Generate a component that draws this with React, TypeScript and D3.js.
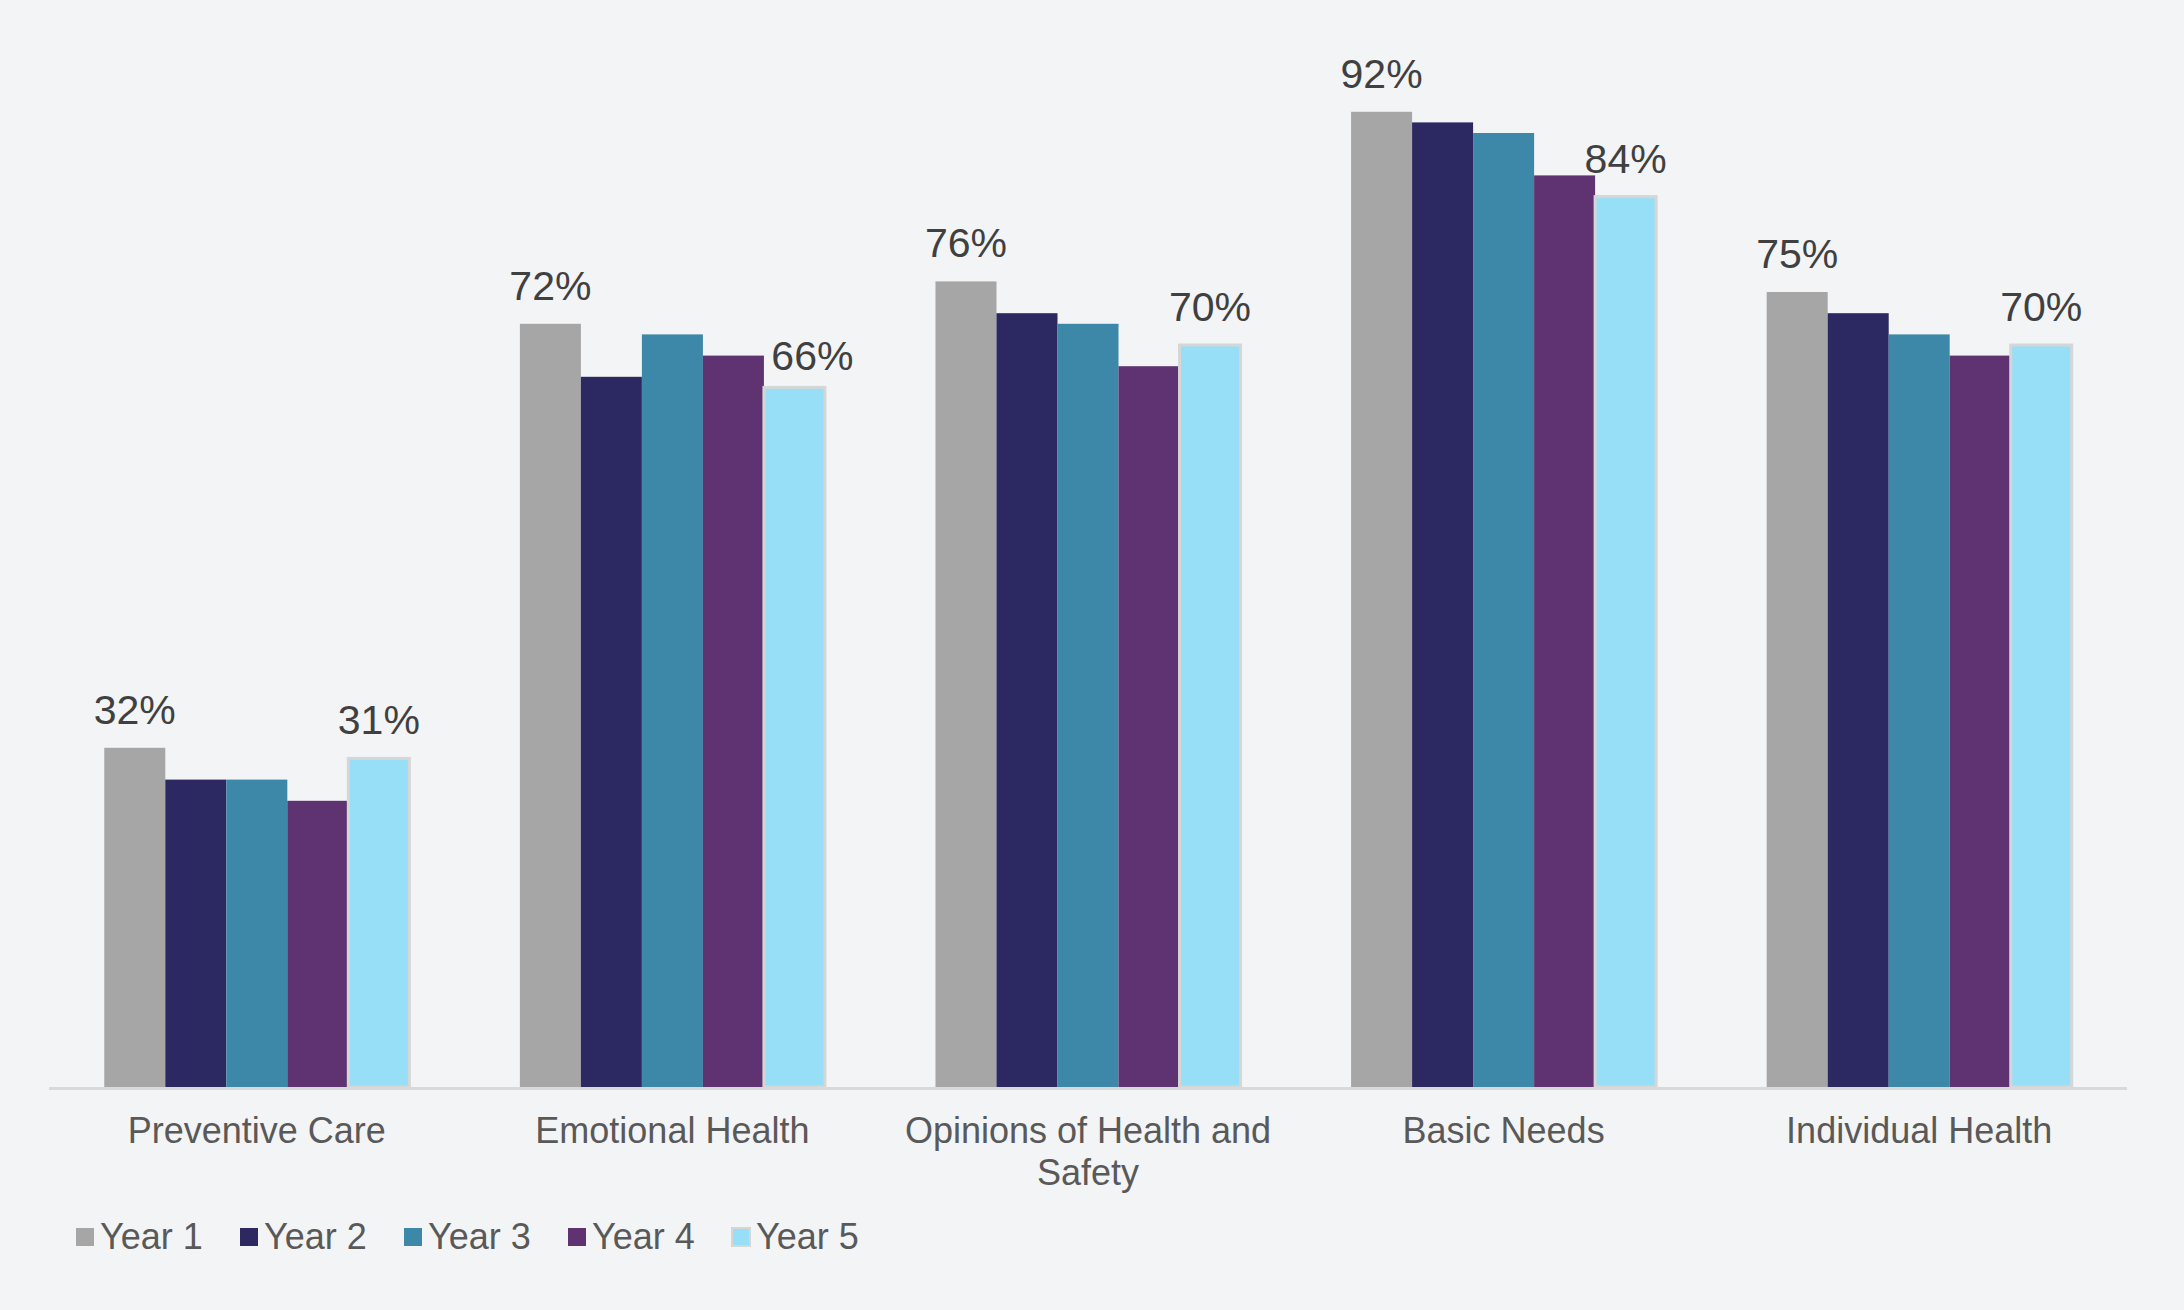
import React, { useEffect, useRef } from 'react';
import * as d3 from 'd3';

const categories = ['Preventive Care', 'Emotional Health', 'Opinions of Health and Safety', 'Basic Needs', 'Individual Health'];
const seriesNames = ['Year 1', 'Year 2', 'Year 3', 'Year 4', 'Year 5'];
const year1 = [32, 72, 76, 92, 75];
const year2 = [29, 67, 73, 91, 73];
const year3 = [29, 71, 72, 90, 71];
const year4 = [27, 69, 68, 86, 69];
const year5 = [31, 66, 70, 84, 70];
const seriesValues = [year1, year2, year3, year4, year5];
// only the first and last year carry a data label
const labelled = [true, false, false, false, true];
const colors = ['#a6a6a6', '#2c2861', '#3d88a8', '#5f3372', '#97dff6'];

const W = 2184;
const H = 1310;
const FONT = '"Liberation Sans", Arial, Helvetica, sans-serif';

function wrap(sel: any, width: number) {
  sel.each(function (this: SVGTextElement) {
    const text = d3.select(this);
    const words = text.text().split(/\s+/);
    const x = text.attr('x');
    const y = text.attr('y');
    text.text(null);
    let line: string[] = [];
    let lineNo = 0;
    let tspan = text.append('tspan').attr('x', x).attr('y', y);
    words.forEach((w) => {
      line.push(w);
      tspan.text(line.join(' '));
      if ((tspan.node() as SVGTSpanElement).getComputedTextLength() > width && line.length > 1) {
        line.pop();
        tspan.text(line.join(' '));
        line = [w];
        lineNo++;
        tspan = text.append('tspan').attr('x', x).attr('y', +y + lineNo * 42).text(w);
      }
    });
  });
}

export default function App() {
  const ref = useRef<SVGSVGElement>(null);

  useEffect(() => {
    const svg = d3.select(ref.current);
    svg.selectAll('*').remove();

    svg.append('rect').attr('width', W).attr('height', H).attr('fill', '#f3f4f6');

    const x0 = d3.scaleBand().domain(categories).range([49, 2127]).paddingInner(0.266).paddingOuter(0.133);
    const x1 = d3.scaleBand().domain(seriesNames).range([0, x0.bandwidth()]).padding(0);
    const y = d3.scaleLinear().domain([0, 100]).range([1087, 27]);

    const groups = svg.selectAll('g.cat')
      .data(categories)
      .enter().append('g')
      .attr('class', 'cat')
      .attr('transform', (d) => `translate(${x0(d)},0)`);

    seriesNames.forEach((s, si) => {
      groups.append('rect')
        .attr('x', x1(s)!)
        .attr('y', (_d, ci) => y(seriesValues[si][ci]))
        .attr('width', x1.bandwidth())
        .attr('height', (_d, ci) => y(0) - y(seriesValues[si][ci]))
        .attr('fill', colors[si])
        .attr('stroke', si === 4 ? '#d6d6d6' : 'none')
        .attr('stroke-width', si === 4 ? 3 : 0);
    });

    seriesNames.forEach((s, si) => {
      if (!labelled[si]) return;
      // nudge a label right/down when the bar to its left pokes into it
      const bumped = (ci: number) =>
        si > 0 && y(seriesValues[si - 1][ci]) < y(seriesValues[si][ci]) - 24;
      groups.append('text')
        .attr('x', (_d, ci) => x1(s)! + x1.bandwidth() / 2 + (bumped(ci) ? 18 : 0))
        .attr('y', (_d, ci) => y(seriesValues[si][ci]) - (bumped(ci) ? 17 : 24))
        .attr('text-anchor', 'middle')
        .attr('font-family', FONT)
        .attr('font-size', 41)
        .attr('fill', '#404040')
        .text((_d, ci) => `${seriesValues[si][ci]}%`);
    });

    // axis line
    svg.append('line')
      .attr('x1', 49).attr('x2', 2127)
      .attr('y1', y(0) + 1.5).attr('y2', y(0) + 1.5)
      .attr('stroke', '#d9d9d9').attr('stroke-width', 3);

    svg.append('g').selectAll('text')
      .data(categories)
      .enter().append('text')
      .attr('x', (d) => x0(d)! + x0.bandwidth() / 2)
      .attr('y', 1143)
      .attr('text-anchor', 'middle')
      .attr('font-family', FONT)
      .attr('font-size', 36)
      .attr('fill', '#595959')
      .text((d) => d)
      .call(wrap, 400);

    // legend
    const legend = svg.append('g').selectAll('g')
      .data(seriesNames)
      .enter().append('g')
      .attr('transform', (_d, i) => `translate(${76 + i * 164},1228)`);
    legend.append('rect')
      .attr('width', 18).attr('height', 18)
      .attr('fill', (_d, i) => colors[i])
      .attr('stroke', (_d, i) => (i === 4 ? '#d6d6d6' : 'none'))
      .attr('stroke-width', 2);
    legend.append('text')
      .attr('x', 24).attr('y', 21)
      .attr('font-family', FONT)
      .attr('font-size', 36)
      .attr('fill', '#595959')
      .text((d) => d);
  }, []);

  return (
    <div style={{ position: 'absolute', left: 0, top: 0 }}>
      <svg ref={ref} width={W} height={H} style={{ display: 'block' }} />
    </div>
  );
}
